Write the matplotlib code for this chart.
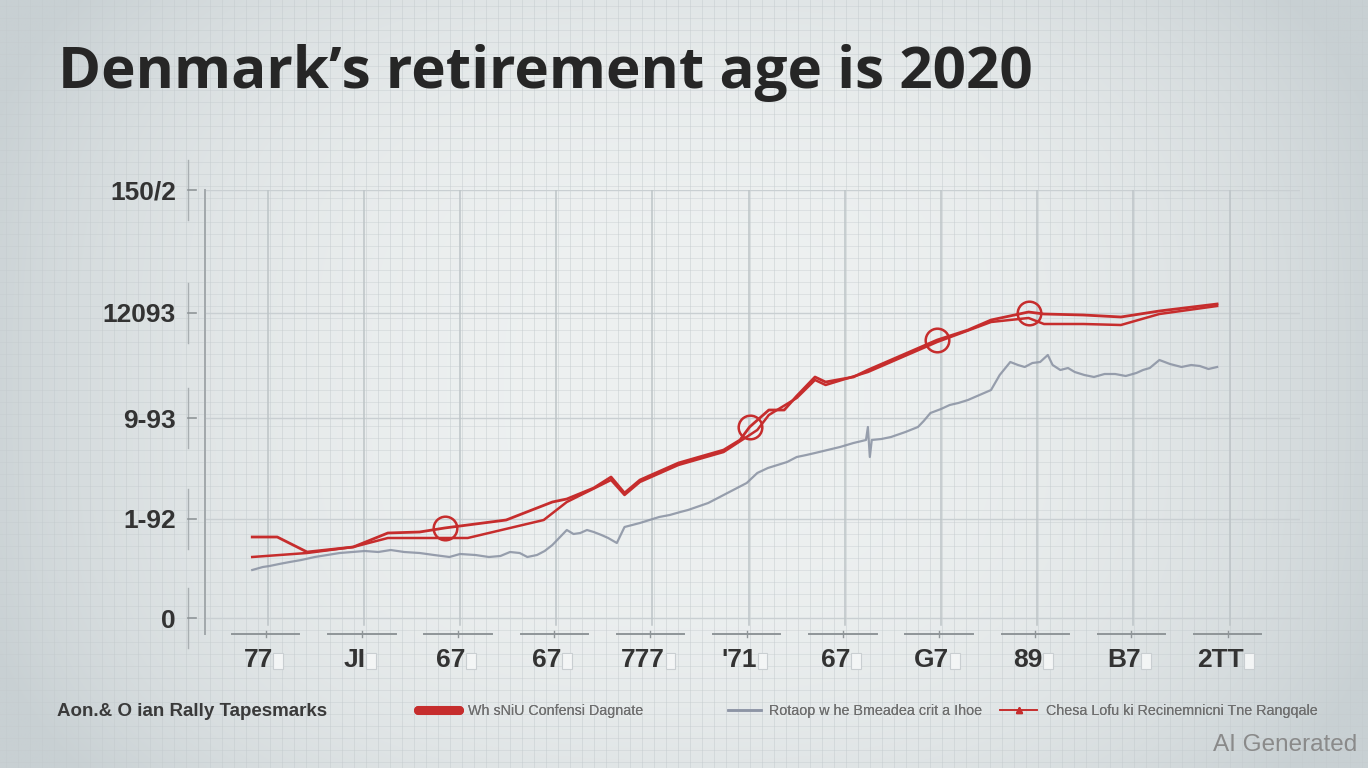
import numpy as np
import matplotlib.pyplot as plt
from matplotlib import transforms
from matplotlib.lines import Line2D

# x is in tick units (0 = first label), y is in chart units (0 = bottom tick)
red_upper_x = [-0.06, 0.20, 0.51, 0.99, 1.35, 1.68, 1.94, 2.58, 3.06, 3.21, 3.49, 3.67, 3.81, 3.97,
               4.37, 4.84, 5.01, 5.11, 5.31, 5.47, 5.60, 5.79, 5.90, 6.19, 6.34, 6.70, 7.06, 7.38,
               7.62, 8.01, 8.17, 8.58, 8.97, 9.37, 9.97]
red_upper_y = [81, 81, 66, 71, 85, 86, 90, 98, 116, 119, 130, 141, 125, 138,
               155, 168, 178, 191, 208, 208, 222, 241, 236, 241, 248, 263, 278, 288,
               298, 306, 304, 303, 301, 307, 314]

red_lower_x = [-0.06, 0.51, 0.99, 1.35, 2.18, 2.97, 3.21, 3.67, 3.81, 3.97, 4.37, 4.84, 5.19,
               5.31, 5.60, 5.79, 5.90, 6.34, 7.06, 7.62, 8.01, 8.17, 8.58, 8.97, 9.37, 9.97]
red_lower_y = [61, 65, 71, 80, 80, 98, 116, 138, 123, 136, 153, 166, 188,
               203, 220, 238, 233, 246, 276, 296, 300, 294, 294, 293, 304, 312]

gray_x = [-0.06, 0.05, 0.12, 0.22, 0.33, 0.45, 0.59, 0.72, 0.85, 0.98, 1.11, 1.25, 1.38, 1.52,
          1.68, 1.83, 1.99, 2.10, 2.26, 2.40, 2.52, 2.62, 2.72, 2.80, 2.90, 2.98, 3.06, 3.14,
          3.21, 3.28, 3.35, 3.42, 3.49, 3.57, 3.64, 3.73, 3.81, 3.89, 3.97, 4.07, 4.17, 4.28,
          4.39, 4.47, 4.56, 4.68, 4.80, 4.94, 5.08, 5.19, 5.30, 5.40, 5.50, 5.60, 5.70, 5.79,
          5.92, 6.05, 6.19, 6.32, 6.34, 6.36, 6.38, 6.48, 6.58, 6.73, 6.86, 6.92, 6.99, 7.10,
          7.19, 7.28, 7.38, 7.50, 7.62, 7.71, 7.82, 7.90, 7.97, 8.05, 8.13, 8.21, 8.26, 8.34,
          8.42, 8.49, 8.59, 8.69, 8.80, 8.91, 9.02, 9.13, 9.20, 9.27, 9.37, 9.48, 9.60, 9.70,
          9.79, 9.88, 9.97]
gray_y = [48, 51, 52, 54, 56, 58, 61, 63, 65, 66, 67, 66, 68, 66,
          65, 63, 61, 64, 63, 61, 62, 66, 65, 61, 63, 67, 73, 81,
          88, 84, 85, 88, 86, 83, 80, 75, 91, 93, 95, 98, 101, 103,
          106, 108, 111, 115, 121, 128, 135, 145, 150, 153, 156, 161, 163, 165,
          168, 171, 175, 178, 191, 161, 178, 179, 181, 186, 191, 197, 205, 209,
          213, 215, 218, 223, 228, 243, 256, 253, 251, 255, 256, 263, 253, 248,
          250, 246, 243, 241, 244, 244, 242, 245, 248, 250, 258, 254, 251, 253,
          252, 249, 251]

circle_x = [1.94, 5.11, 7.06, 8.01]
circle_y = [90, 191, 278, 305]

x_labels = ["77", "JI", "67", "67", "777", "'71", "67", "G7", "89", "B7", "2TT"]
y_ticks = [0, 99, 200, 305, 428]
y_labels = ["0", "1-92", "9-93", "12093", "150/2"]

title = "Denmark\u2019s retirement age is 2020"
source = "Aon.& O ian Rally Tapesmarks"
legend_labels = ["Wh sNiU Confensi Dagnate",
                 "Rotaop w he Bmeadea crit a Ihoe",
                 "Chesa Lofu ki Recinemnicni Tne Rangqale"]

RED = "#c62d2d"
GRAY = "#8d95a5"
W, H = 1368, 768

fig = plt.figure(figsize=(W / 100, H / 100), dpi=100)

# background: soft vignette with a fine graph-paper grid (pixel coords, y down)
bg = fig.add_axes([0, 0, 1, 1], zorder=-10)
bg.set_xlim(0, W)
bg.set_ylim(H, 0)
bg.axis("off")
xx, yy = np.meshgrid(np.linspace(-1, 1, 400), np.linspace(-1, 1, 240))
f = np.clip(1 - 0.85 * np.abs(xx) ** 2.5 - 0.35 * np.abs(yy) ** 3, 0, 1)
edge = np.array([200, 208, 211]) / 255
center = np.array([238, 241, 241]) / 255
img = edge + (center - edge) * f[..., None]
bg.imshow(img, extent=[0, W, H, 0], aspect="auto", interpolation="bilinear")
for gx in np.arange(6, W, 12):
    bg.axvline(gx, color="#c3cacd", lw=0.6, alpha=0.55)
for gy in np.arange(6, H, 12):
    bg.axhline(gy, color="#c3cacd", lw=0.6, alpha=0.45)

# main chart
ax = fig.add_axes([205 / W, 1 - 634 / H, (1300 - 205) / W, (634 - 190) / H])
ax.set_facecolor("none")
ax.set_xlim((205 - 258) / 96.2, (1300 - 258) / 96.2)
ax.set_ylim(-16, 428)
for s in ["top", "right", "bottom"]:
    ax.spines[s].set_visible(False)
ax.spines["left"].set_color("#a2a8ab")
ax.spines["left"].set_linewidth(1.4)

ax.set_yticks(y_ticks, y_labels)
ax.tick_params(axis="y", length=0, pad=21, labelsize=19, labelcolor="#333333")
for lab in ax.get_yticklabels():
    lab.set_fontweight("bold")
    lab.set_family("Liberation Sans")
ax.set_xticks([])

ytrans = transforms.blended_transform_factory(ax.transAxes, ax.transData)
for t in y_ticks:
    ax.plot([-0.0155, -0.0155], [t - 30, t + 30], color="#a9afb2", lw=1.0,
            transform=ytrans, clip_on=False)
    ax.plot([-0.0155, -0.0082], [t, t], color="#8f9598", lw=1.2,
            transform=ytrans, clip_on=False)
    ax.axhline(t, color="#c9cfd2", lw=1.0, zorder=0)

xtrans = transforms.blended_transform_factory(ax.transData, ax.transAxes)
for i, lab in enumerate(x_labels):
    ax.axvline(i + 0.1, color="#bdc4c7", lw=1.1, ymin=0.02, zorder=0)
    ax.plot([i - 0.27, i + 0.43], [0, 0], color="#8f9598", lw=1.4,
            transform=xtrans, clip_on=False)
    ax.plot([i + 0.08, i + 0.08], [-0.007, 0.007], color="#8f9598", lw=1.0,
            transform=xtrans, clip_on=False)
    txt = ax.text(i, -0.058, lab, transform=xtrans, ha="center", va="center",
                  fontsize=19, fontweight="bold", color="#333333", family="Liberation Sans")
    # the small empty box that trails every label
    ax.annotate(" ", xy=(1, 0.45), xycoords=txt, xytext=(3, 0), textcoords="offset points",
                ha="left", va="center", fontsize=7,
                bbox=dict(boxstyle="square,pad=0.35", fc="#f3f5f5", ec="#c9ced1", lw=0.8))

ax.plot(gray_x, gray_y, color=GRAY, lw=1.6, alpha=0.9)
ax.plot(red_lower_x, red_lower_y, color=RED, lw=1.8)
ax.plot(red_upper_x, red_upper_y, color=RED, lw=2.0)
ax.plot(circle_x, circle_y, "o", ms=17, mfc="none", mec=RED, mew=1.8)

# title, source and legend
fig.text(58 / W, 1 - 88 / H, title, fontsize=42, fontweight="bold", family="Open Sans",
         color="#262626", va="baseline")
fig.text(57 / W, 1 - 711 / H, source, fontsize=13.5, fontweight="bold", color="#3a3a3a",
         va="center", family="Liberation Sans")
handles = [Line2D([], [], color=RED, lw=6.5, solid_capstyle="round"),
           Line2D([], [], color=GRAY, lw=1.8),
           Line2D([], [], color=RED, lw=1.2, marker="^", ms=4)]
legend_x = [418, 728, 1000]
legend_len = [2.9, 2.3, 2.6]
for h, lab, lx, hl in zip(handles, legend_labels, legend_x, legend_len):
    leg = fig.legend([h], [lab], loc="center left", bbox_to_anchor=(lx / W, 1 - 711 / H),
                     frameon=False, prop={"family": "Liberation Sans", "size": 10.3},
                     labelcolor="#6e6e6e", handlelength=hl, handletextpad=0.6,
                     borderaxespad=0, borderpad=0)
    fig.add_artist(leg)
fig.text(1357 / W, 1 - 745 / H, "AI Generated", ha="right", va="center", fontsize=17.5,
         color="#8a8a8a", family="Liberation Sans")

fig.savefig("out.png", dpi=100)
